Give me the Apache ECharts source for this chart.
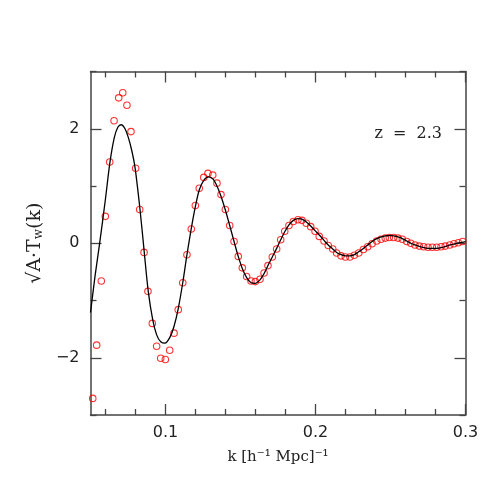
<!DOCTYPE html>
<html>
<head>
<meta charset="utf-8">
<script src="https://cdn.jsdelivr.net/npm/echarts@6/dist/echarts.min.js"></script>
<style>
  html, body { margin: 0; padding: 0; background: #fff; }
  #chart { width: 491px; height: 491px; }
</style>
</head>
<body>
<div id="chart"></div>
<script>
// Model curve
var curveK = [0.0500, 0.0530, 0.0560, 0.0599, 0.0630, 0.0659, 0.0683, 0.0705, 0.0730, 0.0752,
    0.0775, 0.0797, 0.0830, 0.0857, 0.0885, 0.0915, 0.0941, 0.0968, 0.0997, 0.1030,
    0.1057, 0.1085, 0.1115, 0.1143, 0.1172, 0.1199, 0.1225, 0.1255, 0.1288, 0.1317,
    0.1343, 0.1370, 0.1399, 0.1428, 0.1457, 0.1485, 0.1512, 0.1541, 0.1570, 0.1597,
    0.1630, 0.1657, 0.1683, 0.1712, 0.1741, 0.1768, 0.1795, 0.1823, 0.1852, 0.1883,
    0.1910, 0.1939, 0.1968, 0.1997, 0.2030, 0.2057, 0.2085, 0.2115, 0.2141, 0.2170,
    0.2199, 0.2230, 0.2259, 0.2288, 0.2319, 0.2348, 0.2377, 0.2408, 0.2437, 0.2465,
    0.2497, 0.2523, 0.2550, 0.2579, 0.2608, 0.2635, 0.2663, 0.2697, 0.2730, 0.2763,
    0.2797, 0.2830, 0.2863, 0.2897, 0.2930, 0.2963, 0.3000];
var curveT = [-1.21, -0.58, -0.02, 0.76, 1.42, 1.85, 2.03, 2.07, 2.00, 1.85,
    1.62, 1.32, 0.59, -0.12, -0.84, -1.34, -1.60, -1.72, -1.745, -1.64,
    -1.45, -1.14, -0.69, -0.20, 0.26, 0.64, 0.93, 1.10, 1.16, 1.12,
    1.00, 0.82, 0.58, 0.31, 0.03, -0.23, -0.44, -0.60, -0.69, -0.70,
    -0.64, -0.53, -0.39, -0.24, -0.09, 0.06, 0.20, 0.32, 0.40, 0.43,
    0.42, 0.37, 0.30, 0.22, 0.13, 0.05, -0.03, -0.10, -0.16, -0.20,
    -0.22, -0.22, -0.20, -0.15, -0.09, -0.03, 0.03, 0.08, 0.11, 0.13,
    0.135, 0.13, 0.11, 0.08, 0.04, 0.00, -0.03, -0.06, -0.08, -0.09,
    -0.09, -0.08, -0.06, -0.03, -0.01, 0.01, 0.03];

// Measured points (red circles)
var pointK = [0.0515, 0.0541, 0.0572, 0.0599, 0.0628, 0.0657, 0.0688, 0.0715, 0.0743, 0.0770,
    0.0801, 0.0828, 0.0857, 0.0883, 0.0912, 0.0941, 0.0968, 0.0999, 0.1028, 0.1057,
    0.1085, 0.1115, 0.1143, 0.1172, 0.1199, 0.1225, 0.1255, 0.1283, 0.1315, 0.1343,
    0.1370, 0.1399, 0.1428, 0.1457, 0.1485, 0.1512, 0.1541, 0.1570, 0.1599, 0.1630,
    0.1657, 0.1683, 0.1712, 0.1741, 0.1768, 0.1795, 0.1823, 0.1852, 0.1883, 0.1910,
    0.1939, 0.1968, 0.1997, 0.2025, 0.2057, 0.2085, 0.2115, 0.2141, 0.2170, 0.2199,
    0.2230, 0.2259, 0.2288, 0.2319, 0.2348, 0.2377, 0.2408, 0.2437, 0.2465, 0.2492,
    0.2521, 0.2550, 0.2579, 0.2608, 0.2635, 0.2663, 0.2692, 0.2721, 0.2750, 0.2779,
    0.2808, 0.2837, 0.2865, 0.2895, 0.2923, 0.2952, 0.2981];
var pointT = [-2.71, -1.78, -0.66, 0.47, 1.42, 2.14, 2.54, 2.63, 2.41, 1.95,
    1.31, 0.59, -0.16, -0.84, -1.40, -1.80, -2.01, -2.03, -1.87, -1.57,
    -1.16, -0.69, -0.20, 0.25, 0.66, 0.96, 1.15, 1.22, 1.19, 1.05,
    0.85, 0.59, 0.31, 0.03, -0.23, -0.43, -0.58, -0.66, -0.67, -0.63,
    -0.52, -0.39, -0.24, -0.10, 0.06, 0.21, 0.31, 0.38, 0.41, 0.40,
    0.35, 0.29, 0.21, 0.12, 0.04, -0.04, -0.10, -0.17, -0.22, -0.24,
    -0.24, -0.21, -0.17, -0.11, -0.06, -0.01, 0.04, 0.07, 0.09, 0.10,
    0.10, 0.09, 0.07, 0.03, 0.00, -0.03, -0.05, -0.06, -0.07, -0.07,
    -0.07, -0.06, -0.05, -0.03, -0.01, 0.01, 0.03];

// Ticks
var xMajor = [0.1, 0.2, 0.3];
var xMinor = [0.06, 0.08, 0.12, 0.14, 0.16, 0.18, 0.22, 0.24, 0.26, 0.28];
var yMajor = [-2, 0, 2];
var yMinor = [-3, -1, 1, 3];

var chart = echarts.init(document.getElementById('chart'));

var frameColor = '#444';
var textColor = '#222';

// one axis object, mirrored or not, major or minor ticks
function makeAxis(kind, position, ticks, len, showLine, showLabel) {
    var ax = {
        type: 'value',
        position: position,
        min: kind === 'x' ? 0.05 : -3,
        max: kind === 'x' ? 0.3 : 3,
        splitLine: { show: false },
        axisLine: {
            show: showLine,
            onZero: false,
            lineStyle: { color: frameColor, width: 1.5 }
        },
        axisTick: {
            show: true,
            inside: true,
            length: len,
            customValues: ticks,
            lineStyle: { color: frameColor, width: 1.3 }
        },
        axisLabel: {
            show: showLabel,
            customValues: ticks,
            color: textColor,
            fontFamily: 'DejaVu Sans',
            fontSize: 16,
            margin: kind === 'x' ? 10 : 11,
            formatter: function (v) {
                var s = kind === 'x' ? v.toFixed(1) : String(v);
                return s.replace('-', '\u2212');
            }
        }
    };
    return ax;
}

var xAxes = [
    makeAxis('x', 'bottom', xMajor, 11, true, true),
    makeAxis('x', 'bottom', xMinor, 6, false, false),
    makeAxis('x', 'top', xMajor, 11, true, false),
    makeAxis('x', 'top', xMinor, 6, false, false)
];
xAxes[0].name = 'k [h\u207B\u00B9 Mpc]\u207B\u00B9';
xAxes[0].nameLocation = 'middle';
xAxes[0].nameGap = 35;
xAxes[0].nameTextStyle = { color: textColor, fontFamily: 'DejaVu Serif', fontSize: 15 };

var yAxes = [
    makeAxis('y', 'left', yMajor, 11, true, true),
    makeAxis('y', 'left', yMinor, 6, false, false),
    makeAxis('y', 'right', yMajor, 11, true, false),
    makeAxis('y', 'right', yMinor, 6, false, false)
];
yAxes[0].name = '\u221AA\u00B7T{sub|w}(k)';
yAxes[0].nameLocation = 'middle';
yAxes[0].nameGap = 42;
yAxes[0].nameRotate = 90;
yAxes[0].nameTextStyle = {
    color: textColor,
    fontFamily: 'DejaVu Serif',
    fontSize: 19,
    rich: {
        sub: { fontFamily: 'DejaVu Serif', fontSize: 12, color: textColor, verticalAlign: 'bottom', padding: [8, 0, 0, 0] }
    }
};

var curveData = curveK.map(function (k, i) { return [k, curveT[i]]; });
var pointData = pointK.map(function (k, i) { return [k, pointT[i]]; });

chart.setOption({
    animation: false,
    backgroundColor: '#fff',
    grid: {
        left: 90.5,
        right: 25.5,
        top: 71.5,
        bottom: 76
    },
    xAxis: xAxes,
    yAxis: yAxes,
    graphic: [{
        type: 'text',
        right: 49,
        top: 126,
        style: {
            text: 'z  =  2.3',
            fill: textColor,
            font: '16px "DejaVu Serif"'
        }
    }],
    series: [{
        name: 'points',
        type: 'scatter',
        data: pointData,
        symbol: 'circle',
        symbolSize: 6.5,
        itemStyle: { color: 'rgba(0,0,0,0)', borderColor: '#ff0000', borderWidth: 1.1 },
        z: 2
    }, {
        name: 'model',
        type: 'line',
        data: curveData,
        smooth: 0.3,
        showSymbol: false,
        lineStyle: { color: '#000', width: 1.3 },
        clip: true,
        z: 3
    }]
});
</script>
</body>
</html>
